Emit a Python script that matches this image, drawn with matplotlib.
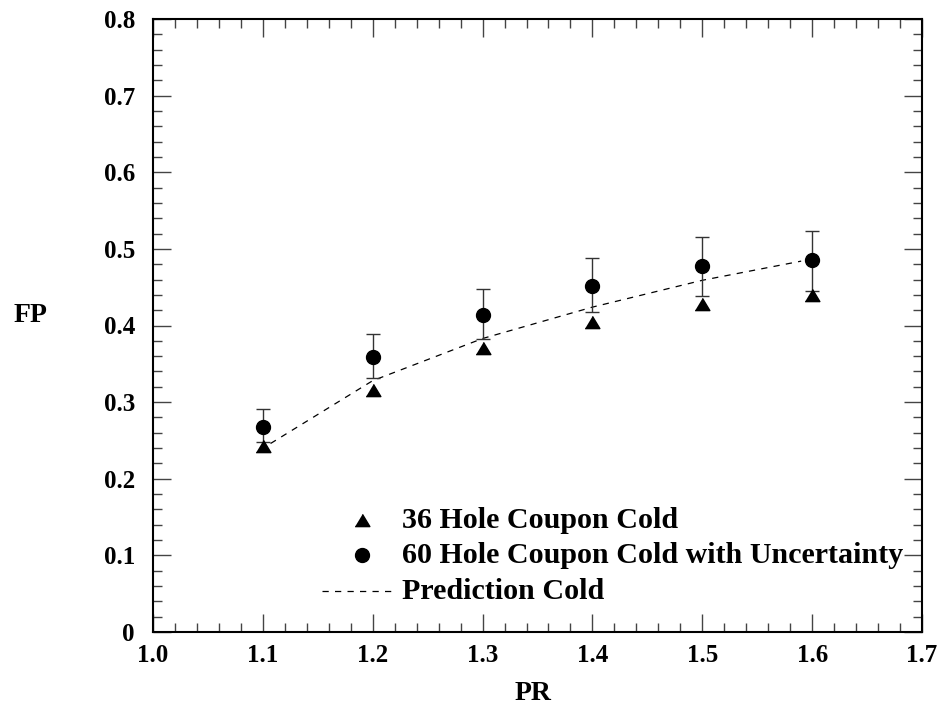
import matplotlib
matplotlib.use("Agg")
import matplotlib.pyplot as plt
from matplotlib.ticker import MultipleLocator

plt.rcParams['font.family'] = ['Liberation Serif', 'DejaVu Serif']
plt.rcParams['font.weight'] = 'bold'

pr = [1.1, 1.2, 1.3, 1.4, 1.5, 1.6]
fp_36 = [0.243, 0.316, 0.370, 0.405, 0.428, 0.440]
fp_60 = [0.268, 0.359, 0.414, 0.452, 0.478, 0.485]
err_hi = [0.291, 0.389, 0.448, 0.488, 0.516, 0.523]
err_lo = [0.248, 0.331, 0.382, 0.417, 0.439, 0.445]
pred_x = [1.107, 1.2, 1.3, 1.4, 1.5, 1.59]
pred_y = [0.246, 0.328, 0.383, 0.424, 0.459, 0.484]

x_ticks = [1.0, 1.1, 1.2, 1.3, 1.4, 1.5, 1.6, 1.7]
x_ticklabels = ["1.0", "1.1", "1.2", "1.3", "1.4", "1.5", "1.6", "1.7"]
y_ticks = [0, 0.1, 0.2, 0.3, 0.4, 0.5, 0.6, 0.7, 0.8]
y_ticklabels = ["0", "0.1", "0.2", "0.3", "0.4", "0.5", "0.6", "0.7", "0.8"]

legend_labels = ["36 Hole Coupon Cold", "60 Hole Coupon Cold with Uncertainty", "Prediction Cold"]

tri = [(-1, -0.83), (1, -0.83), (0, 0.83)]

fig = plt.figure(figsize=(9.44, 7.09), dpi=100)
ax = fig.add_axes([153/944, 1-632/709, (922-153)/944, (632-19)/709])

yerr = [[m - l for m, l in zip(fp_60, err_lo)], [h - m for m, h in zip(fp_60, err_hi)]]
ax.errorbar(pr, fp_60, yerr=yerr, fmt='none', ecolor='#333333', elinewidth=1.0,
            capsize=5, capthick=1.0, zorder=2)
ax.plot(pr, fp_36, linestyle='none', marker=tri, markersize=10.6, color='black', zorder=3)
ax.plot(pr, fp_60, linestyle='none', marker='o', markersize=10, color='black', zorder=4)
ax.plot(pred_x, pred_y, linestyle=(0, (5, 5)), color='black', linewidth=0.9, zorder=1)

ax.set_xlim(1.0, 1.7)
ax.set_ylim(0, 0.8)
ax.set_xticks(x_ticks)
ax.set_xticklabels(x_ticklabels, fontweight='bold')
ax.set_yticks(y_ticks)
ax.set_yticklabels(y_ticklabels, fontweight='bold')
ax.xaxis.set_minor_locator(MultipleLocator(0.02))
ax.yaxis.set_minor_locator(MultipleLocator(0.02))
ax.tick_params(which='both', direction='in', top=True, right=True, color='#444444')
ax.tick_params(which='major', length=13, width=1.0, labelsize=18)
ax.tick_params(which='minor', length=6.5, width=1.0)
ax.tick_params(axis='x', which='major', pad=9)
ax.tick_params(axis='y', which='major', pad=13)
for sp in ax.spines.values():
    sp.set_linewidth(1.5)

fig.text(533/944, 1-693/709, "PR", fontsize=20, fontweight='bold', ha='center', va='center')
fig.text(30/944, 1-316/709, "FP", fontsize=20, fontweight='bold', ha='center', va='center')

# legend drawn manually
lx_marker = 1.19
lx_text = 1.227
rows_y = [0.146, 0.100, 0.053]
ax.plot([lx_marker], [rows_y[0]], marker=tri, markersize=10.6, color='black', linestyle='none', clip_on=False)
ax.plot([lx_marker], [rows_y[1]], marker='o', markersize=10, color='black', linestyle='none', clip_on=False)
ax.plot([1.154, 1.222], [rows_y[2], rows_y[2]], linestyle=(0, (5, 5)), color='black', linewidth=0.9)
for y, t in zip(rows_y, legend_labels):
    ax.text(lx_text, y, t, fontsize=21.6, fontweight='bold', va='center', ha='left', clip_on=False)

fig.savefig("out.png", dpi=100)
